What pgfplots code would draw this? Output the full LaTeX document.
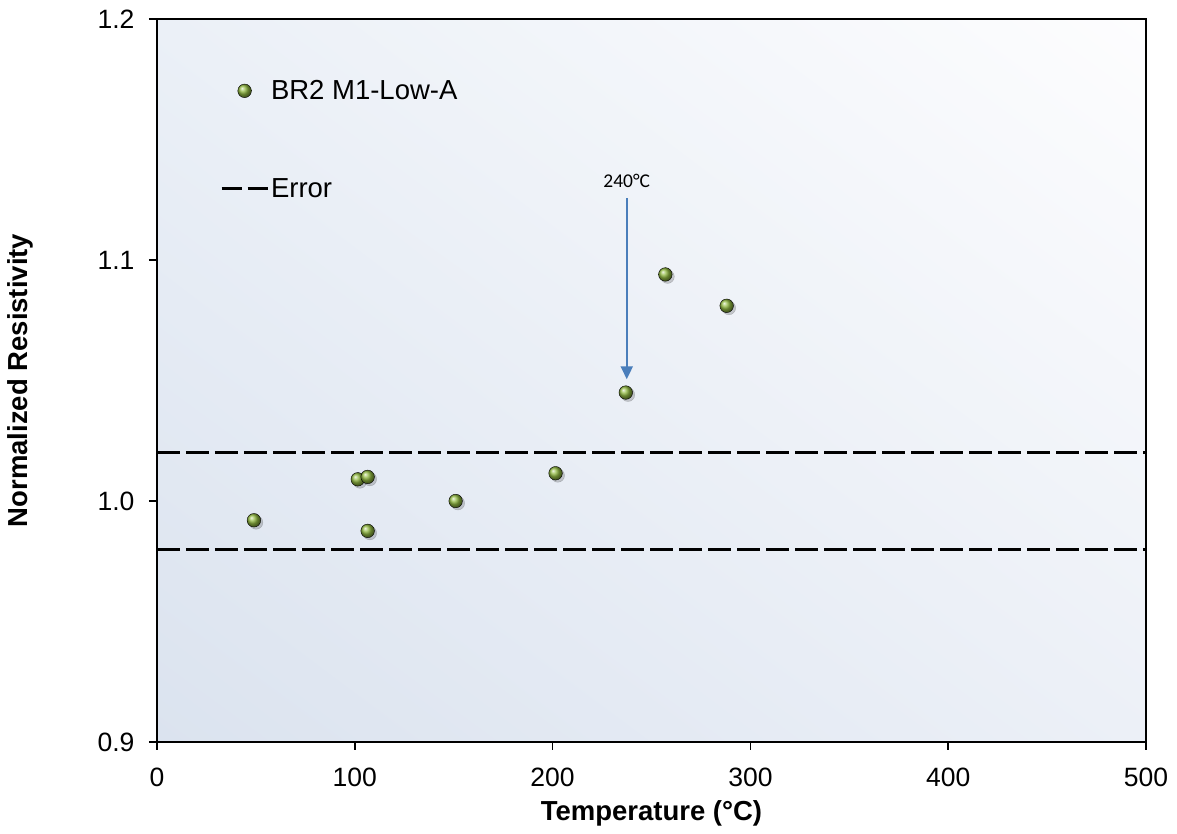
\documentclass[border=0pt]{standalone}
\usepackage{pgfplots}
\pgfplotsset{compat=1.18}
\usepackage{fontspec}
\setmainfont{Liberation Sans}
\newfontfamily\calibri{Carlito}
\usetikzlibrary{arrows.meta,calc,shadings}
\definecolor{bgll}{RGB}{219,227,239}
\definecolor{bgul}{RGB}{235,240,247}
\definecolor{bglr}{RGB}{236,240,247}
\definecolor{bgur}{RGB}{253,253,254}
\definecolor{ballg}{RGB}{145,185,65}
\definecolor{arrowblue}{RGB}{74,126,187}
\begin{document}
\begin{tikzpicture}
\begin{axis}[
  name=ax,
  scale only axis,
  width=989pt, height=723pt,
  xmin=0, xmax=500, ymin=0.9, ymax=1.2,
  xtick={0,100,...,500}, ytick={0.9,1.0,1.1,1.2},
  /pgf/number format/assume math mode=true,
  tick label style={font=\fontsize{26.5}{30}\selectfont},
  xticklabel style={yshift=-14pt},
  yticklabel style={xshift=-11pt},
  y tick label style={/pgf/number format/.cd,fixed,fixed zerofill,precision=1},
  xtick pos=bottom, ytick pos=left,
  tick align=outside, major tick length=8pt,
  every tick/.style={black, line width=1.6pt},
  axis line style={black, line width=2pt},
  axis background/.style={shade, lower left=bgll, upper left=bgul, lower right=bglr, upper right=bgur},
  xlabel={\textbf{Temperature (°C)}},
  ylabel={\textbf{Normalized Resistivity}},
  label style={font=\fontsize{27.5}{31}\selectfont},
  xlabel style={yshift=-7pt},
  ylabel style={yshift=58pt},
  legend style={draw=none, fill=none, at={(rel axis cs:0.0637,0.918)}, anchor=north west,
    font=\fontsize{27.5}{31}\selectfont, row sep=73pt, cells={anchor=west},
    inner sep=0pt},
  clip=false,
]
% shadows of the markers
\addplot[only marks, mark=*, mark size=6.8pt, forget plot,
  mark options={draw=none, fill=black, opacity=0.18, xshift=2.2pt, yshift=-2.2pt}]
  coordinates {(49,0.992)(101.5,1.009)(106.5,1.010)(106.5,0.9876)(151,1.000)(201.5,1.0115)(237,1.045)(257,1.094)(288,1.081)};
\addplot[only marks, mark=ball, mark size=6.8pt, mark options={ball color=ballg},
  legend image code/.code={\draw[mark=ball,mark size=6.8pt,mark options={ball color=ballg}] plot coordinates {(23pt,0pt)};}]
  coordinates {(49,0.992)(101.5,1.009)(106.5,1.010)(106.5,0.9876)(151,1.000)(201.5,1.0115)(237,1.045)(257,1.094)(288,1.081)};
\addlegendentry{BR2 M1-Low-A}
\addplot[black, line width=2.8pt, dash pattern=on 23pt off 6pt, mark=none,
  legend image code/.code={\draw[black, line width=2.8pt, dash pattern=on 20pt off 6pt] (0pt,0pt) -- (46pt,0pt);}]
  coordinates {(0,1.02)(500,1.02)};
\addlegendentry{Error}
\addplot[black, line width=2.8pt, dash pattern=on 23pt off 6pt, mark=none, forget plot]
  coordinates {(0,0.98)(500,0.98)};
\draw[arrowblue, line width=2pt, -{Triangle[length=13pt,width=12pt]}] (axis cs:237.5,1.1257) -- (axis cs:237.5,1.0505);
\node[font=\calibri\fontsize{19.5}{22}\selectfont] at (axis cs:237.5,1.1328) {240°C};
\end{axis}
\path[use as bounding box] ($(ax.south west)+(-157pt,-92pt)$) rectangle ($(ax.north east)+(31pt,19pt)$);
\end{tikzpicture}
\end{document}
